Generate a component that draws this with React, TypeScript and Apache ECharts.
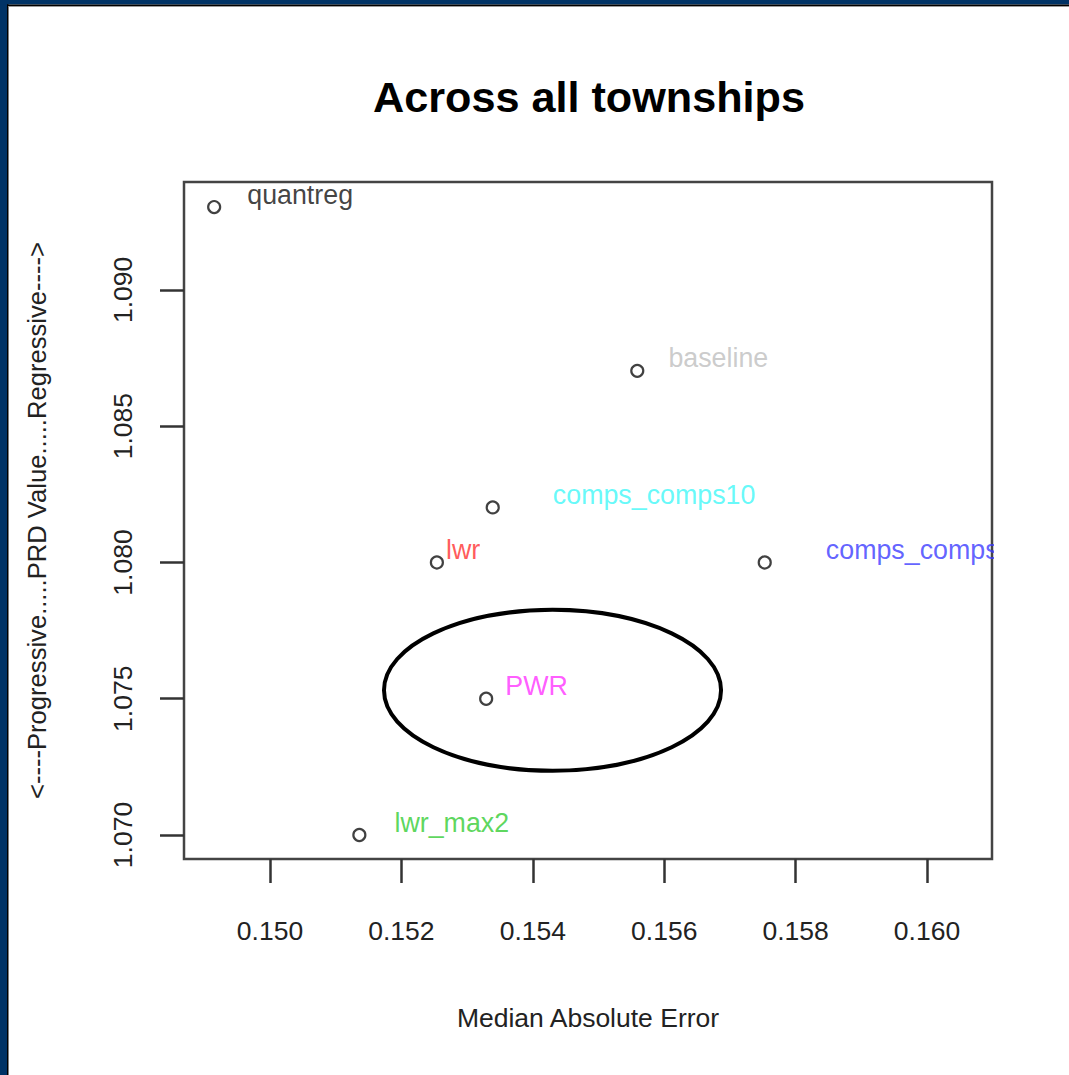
import React, { useEffect, useRef } from "react";
import * as echarts from "echarts";

const labels = ["quantreg", "baseline", "comps_comps10", "lwr", "comps_comps", "PWR", "lwr_max2"];
const maeValues = [0.14915, 0.15559, 0.15339, 0.15254, 0.15753, 0.15329, 0.15136];
const prdValues = [1.09304, 1.08703, 1.08202, 1.08, 1.08, 1.075, 1.07];
const labelColors = ["#111111", "#bebebe", "#40f8f8", "#ff3030", "#3a3aff", "#ff33ff", "#33cc33"];
const labelDx = [21, 19, 48, -3, 49, 7, 23];

const xTicks = [0.15, 0.152, 0.154, 0.156, 0.158, 0.16];
const yTicks = [1.07, 1.075, 1.08, 1.085, 1.09];

// highlighted region around PWR (center x, center y, radius x, radius y in data units)
const ellipseSpec = [0.1543, 1.07531, 0.002565, 0.002953];

const FONT = "'Liberation Sans', Arial, Helvetica, sans-serif";

export default function App() {
  const ref = useRef<HTMLDivElement>(null);
  useEffect(() => {
    document.body.style.margin = "0";
    const chart = echarts.init(ref.current!, null, { renderer: "svg" });
    const scatterData = labels.map((name, i) => ({
      value: [maeValues[i], prdValues[i]],
      name,
      label: {
        show: true,
        formatter: name,
        position: "right",
        offset: [labelDx[i], -12.5],
        color: labelColors[i],
        fontSize: 26.8,
        fontFamily: FONT,
      },
    }));
    chart.setOption({
      animation: false,
      backgroundColor: "#ffffff",
      title: {
        text: "Across all townships",
        left: 368,
        top: 70,
        textStyle: { fontSize: 43.2, fontWeight: "bold", color: "#000", fontFamily: FONT },
      },
      grid: {
        left: 184,
        top: 182,
        right: 77,
        bottom: 216,
        show: true,
        borderColor: "#444",
        borderWidth: 2.5,
        backgroundColor: "transparent",
      },
      xAxis: {
        type: "value",
        min: 0.148691,
        max: 0.160989,
        splitLine: { show: false },
        axisLine: { show: false },
        axisTick: {
          show: true,
          length: 24,
          lineStyle: { color: "#333", width: 2.5 },
          customValues: xTicks,
        },
        axisLabel: {
          customValues: xTicks,
          formatter: (v: number) => v.toFixed(3),
          fontSize: 26.5,
          fontFamily: FONT,
          color: "#222",
          margin: 58,
        },
        name: "Median Absolute Error",
        nameLocation: "middle",
        nameGap: 145,
        nameTextStyle: { fontSize: 26.5, fontFamily: FONT, color: "#222" },
      },
      yAxis: {
        type: "value",
        min: 1.06912,
        max: 1.09396,
        splitLine: { show: false },
        axisLine: { show: false },
        axisTick: {
          show: true,
          length: 24,
          lineStyle: { color: "#333", width: 2.5 },
          customValues: yTicks,
        },
        axisLabel: {
          customValues: yTicks,
          formatter: (v: number) => v.toFixed(3),
          rotate: 90,
          fontSize: 26.5,
          fontFamily: FONT,
          color: "#222",
          margin: 48,
        },
        name: "<----Progressive.....PRD Value.....Regressive---->",
        nameLocation: "middle",
        nameRotate: 90,
        nameGap: 134,
        nameTextStyle: { fontSize: 25.6, fontFamily: FONT, color: "#222" },
      },
      graphic: [
        { type: "rect", left: 994, top: 150, shape: { width: 80, height: 740 }, style: { fill: "#fff" }, z: 50, silent: true },
        { type: "rect", left: 0, top: 0, shape: { width: 7, height: 1075 }, style: { fill: "#003366" }, z: 60 },
        { type: "rect", left: 7, top: 0, shape: { width: 1.5, height: 1075 }, style: { fill: "#000" }, z: 60 },
        { type: "rect", left: 0, top: 0, shape: { width: 1069, height: 4.5 }, style: { fill: "#003366" }, z: 60 },
        { type: "rect", left: 7, top: 4.5, shape: { width: 1062, height: 1.5 }, style: { fill: "#000" }, z: 60 },
        { type: "rect", left: 8.5, top: 6, shape: { width: 1062, height: 1 }, style: { fill: "#999" }, z: 60 },
      ],
      series: [
        {
          type: "scatter",
          data: scatterData,
          symbol: "circle",
          symbolSize: 12,
          itemStyle: { color: "#fff", borderColor: "#111", borderWidth: 2.2 },
          z: 3,
        },
        {
          type: "custom",
          data: [ellipseSpec],
          renderItem: (params: any, api: any) => {
            const c = api.coord([api.value(0), api.value(1)]);
            const edge = api.coord([api.value(0) + api.value(2), api.value(1) + api.value(3)]);
            return {
              type: "ellipse",
              shape: { cx: c[0], cy: c[1], rx: Math.abs(edge[0] - c[0]), ry: Math.abs(edge[1] - c[1]) },
              style: { fill: "none", stroke: "#000", lineWidth: 4 },
            };
          },
          z: 2,
          silent: true,
        },
      ],
    });
    return () => chart.dispose();
  }, []);
  return <div ref={ref} style={{ width: 1069, height: 1075 }} />;
}
